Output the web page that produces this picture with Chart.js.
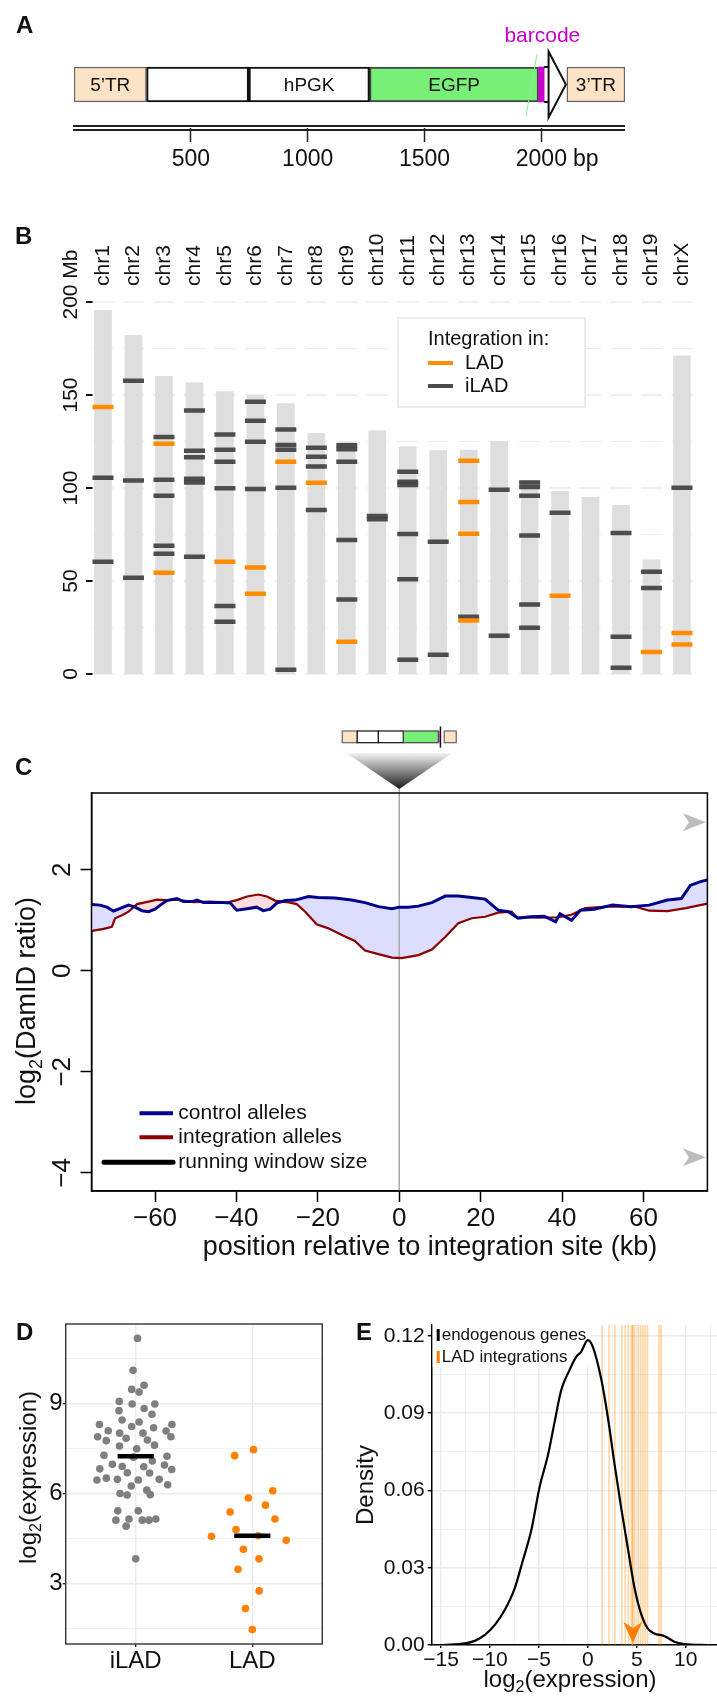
<!DOCTYPE html>
<html>
<head>
<meta charset="utf-8">
<title>Integration figure</title>
<script src="https://cdn.jsdelivr.net/npm/chart.js@4.4.1/dist/chart.umd.min.js"></script>
<style>
  html, body { margin: 0; padding: 0; background: #fff; }
  #page { position: relative; width: 717px; height: 1699px; overflow: hidden; background: #fff; }
  #page canvas { position: absolute; }
  .tag { position: absolute; font: bold 24px "Liberation Sans", Arial, sans-serif; color: #111; line-height: 1; }
</style>
</head>
<body>
<div id="page">
  <canvas id="panelA" width="717" height="185" style="left:0;top:0"></canvas>
  <canvas id="panelB" width="717" height="520" style="left:0;top:185px"></canvas>
  <canvas id="panelC" width="717" height="600" style="left:0;top:705px"></canvas>
  <canvas id="panelD" width="345" height="394" style="left:0;top:1305px"></canvas>
  <canvas id="panelE" width="372" height="394" style="left:345px;top:1305px"></canvas>
  <div class="tag" style="left:16px;top:13px">A</div>
  <div class="tag" style="left:15px;top:224px">B</div>
  <div class="tag" style="left:15px;top:755px">C</div>
  <div class="tag" style="left:16px;top:1320px">D</div>
  <div class="tag" style="left:356px;top:1320px">E</div>
</div>
<script>
const FONT = '"Liberation Sans", Arial, Helvetica, sans-serif';
Chart.defaults.font.family = FONT;
Chart.defaults.color = '#111';
Chart.defaults.animation = false;
Chart.defaults.responsive = false;
Chart.defaults.events = [];
Chart.defaults.plugins.legend.display = false;
Chart.defaults.plugins.tooltip.enabled = false;

// --- A: vector map, positions in bp
const partNames = ['5’TR', '', 'hPGK', 'EGFP', 'barcode', '3’TR'];
const partStartBp = [0, 310, 748, 1265, 1988, 2109];
const partEndBp = [310, 748, 1265, 1988, 2012, 2358];
const arrowBp = [2012, 2031, 2105];
const bpTicks = [500, 1000, 1500, 2000];

// --- B: integration sites per chromosome (Mb)
const chromosomes = ['chr1', 'chr2', 'chr3', 'chr4', 'chr5', 'chr6', 'chr7', 'chr8', 'chr9', 'chr10',
  'chr11', 'chr12', 'chr13', 'chr14', 'chr15', 'chr16', 'chr17', 'chr18', 'chr19', 'chrX'];
const chromLengthMb = [195.5, 182.1, 160.0, 156.5, 151.8, 149.7, 145.4, 129.4, 124.6, 130.7,
  122.1, 120.1, 120.4, 124.9, 104.0, 98.2, 95.0, 90.7, 61.4, 171.0];
const ladChrom = ['chr1', 'chr3', 'chr3', 'chr5', 'chr6', 'chr6', 'chr7', 'chr8', 'chr9', 'chr13',
  'chr13', 'chr13', 'chr13', 'chr16', 'chr19', 'chrX', 'chrX'];
const ladMb = [143.5, 123.8, 54.5, 60.4, 57.2, 43.2, 114.1, 102.8, 17.4, 114.7,
  92.5, 75.4, 28.8, 42.1, 11.8, 22.0, 15.8];
const iladChrom = ['chr1', 'chr1', 'chr2', 'chr2', 'chr2', 'chr3', 'chr3', 'chr3', 'chr3', 'chr3',
  'chr4', 'chr4', 'chr4', 'chr4', 'chr4', 'chr4', 'chr5', 'chr5', 'chr5', 'chr5', 'chr5', 'chr5',
  'chr6', 'chr6', 'chr6', 'chr6', 'chr7', 'chr7', 'chr7', 'chr7', 'chr7', 'chr8', 'chr8', 'chr8', 'chr8',
  'chr9', 'chr9', 'chr9', 'chr9', 'chr9', 'chr10', 'chr10', 'chr11', 'chr11', 'chr11', 'chr11', 'chr11', 'chr11',
  'chr12', 'chr12', 'chr13', 'chr14', 'chr14', 'chr15', 'chr15', 'chr15', 'chr15', 'chr15', 'chr15',
  'chr16', 'chr18', 'chr18', 'chr18', 'chr19', 'chr19', 'chrX'];
const iladMb = [105.5, 60.4, 157.7, 104.0, 51.8, 127.4, 104.5, 95.9, 69.0, 64.7,
  141.6, 120.0, 116.5, 105.0, 103.0, 63.0, 128.7, 120.6, 114.1, 99.8, 36.6, 28.1,
  146.4, 136.2, 124.9, 99.5, 131.5, 123.1, 120.6, 100.2, 2.3, 121.7, 116.8, 111.5, 88.2,
  123.0, 120.8, 114.1, 72.0, 40.0, 85.0, 83.2, 108.8, 103.4, 101.6, 75.3, 50.9, 7.7,
  71.1, 10.4, 30.8, 99.0, 20.6, 103.0, 100.5, 95.9, 74.4, 37.3, 24.9,
  86.7, 75.8, 20.0, 3.4, 55.0, 46.2, 100.2];
const mbTicks = [0, 50, 100, 150, 200];

// --- C: running-window DamID around the integration site
const controlKb = [-75.5, -73.5, -71.8, -70.2, -69.0, -67.8, -66.5, -64.9, -63.2, -61.6, -60.0, -58.7,
  -57.1, -54.6, -53.0, -50.9, -49.7, -48.1, -45.6, -43.2, -41.5, -39.9, -37.4, -35.0, -33.4, -31.7,
  -30.1, -28.0, -25.6, -22.3, -19.9, -15.8, -11.7, -8.4, -5.1, -1.8, 0.0, 2.2, 4.7, 8.0, 11.3, 14.5,
  17.8, 21.1, 22.7, 24.3, 26.8, 29.2, 32.2, 35.6, 38.4, 39.5, 42.3, 44.5, 47.9, 52.4, 56.9, 61.4,
  65.9, 69.3, 71.5, 73.8, 75.7];
const controlLog2 = [1.31, 1.30, 1.26, 1.18, 1.22, 1.26, 1.30, 1.26, 1.19, 1.17, 1.22, 1.30,
  1.39, 1.43, 1.37, 1.37, 1.40, 1.35, 1.35, 1.35, 1.34, 1.20, 1.23, 1.26, 1.19, 1.22,
  1.34, 1.39, 1.40, 1.47, 1.45, 1.44, 1.40, 1.35, 1.27, 1.23, 1.26, 1.26, 1.28, 1.35, 1.48, 1.48,
  1.45, 1.42, 1.31, 1.20, 1.17, 1.04, 1.07, 1.08, 0.97, 1.13, 1.00, 1.20, 1.22, 1.30, 1.27, 1.30,
  1.40, 1.43, 1.69, 1.76, 1.80];
const integKb = [-75.5, -72.6, -70.6, -69.8, -68.1, -66.5, -64.4, -61.6, -59.5, -57.1, -54.6, -50.5,
  -46.4, -42.4, -39.9, -37.4, -34.6, -32.5, -30.5, -26.8, -25.2, -23.1, -20.3, -17.4, -14.1, -10.9,
  -8.4, -5.1, -1.8, 0.6, 4.7, 8.0, 11.3, 14.5, 17.8, 21.1, 24.3, 27.6, 28.8, 34.5, 39.0, 42.3,
  45.7, 51.3, 58.0, 61.4, 65.9, 70.4, 75.7];
const integLog2 = [0.79, 0.83, 0.87, 1.04, 1.10, 1.17, 1.32, 1.37, 1.41, 1.40, 1.41, 1.36,
  1.37, 1.35, 1.40, 1.47, 1.51, 1.47, 1.39, 1.35, 1.32, 1.17, 0.92, 0.84, 0.71, 0.59,
  0.40, 0.33, 0.26, 0.25, 0.31, 0.42, 0.67, 0.94, 1.04, 1.07, 1.15, 1.17, 1.06, 1.05, 1.06, 1.11,
  1.24, 1.27, 1.27, 1.19, 1.18, 1.24, 1.33];
const offscaleLog2 = [2.94, -3.69];
const kbTicks = [-60, -40, -20, 0, 20, 40, 60];
const log2Ticks = [-4, -2, 0, 2];

// --- D / E: expression
const groupNames = ['iLAD', 'LAD'];
const iladExpr = [11.18, 10.12, 9.62, 9.48, 9.39, 9.08, 8.99, 8.99, 8.84, 8.77, 8.65, 8.46, 8.39,
  8.31, 8.31, 8.24, 8.20, 8.10, 8.09, 8.02, 8.02, 7.90, 7.90, 7.85, 7.79, 7.77, 7.62, 7.59, 7.50,
  7.28, 7.25, 7.22, 7.09, 6.98, 6.96, 6.91, 6.90, 6.83, 6.81, 6.70, 6.69, 6.52, 6.48, 6.48, 6.46,
  6.46, 6.30, 6.26, 6.12, 6.01, 5.97, 5.96, 5.43, 5.43, 5.16, 5.16, 5.12, 5.12, 5.12, 4.92, 3.83];
const ladExpr = [7.47, 7.27, 6.10, 5.86, 5.62, 5.39, 5.16, 4.81, 4.60, 4.58, 4.45, 4.15, 3.83,
  3.48, 2.76, 2.17, 1.47];
const densityX = [-14.77, -12.56, -11.54, -10.52, -9.50, -8.49, -7.47, -6.62, -5.77, -4.92, -4.07,
  -3.39, -2.72, -1.87, -1.19, -0.68, 0.00, 0.51, 1.36, 2.04, 2.72, 3.39, 4.07, 4.75, 5.43, 6.11,
  6.79, 7.81, 8.83, 9.84, 12.22];
const densityY = [0.0000, 0.0006, 0.0016, 0.0039, 0.0078, 0.0136, 0.0220, 0.0330, 0.0446, 0.0614,
  0.0737, 0.0866, 0.0989, 0.1067, 0.1118, 0.1138, 0.1183, 0.1157, 0.1034, 0.0886, 0.0705, 0.0537,
  0.0381, 0.0226, 0.0123, 0.0065, 0.0045, 0.0035, 0.0013, 0.0004, 0.0000];

// colours of the vector parts
const partFill = ['#FDE3C6', '#FFFFFF', '#FFFFFF', '#78F078', '#CC00CC', '#FDE3C6'];
const partEdge = ['#666666', '#111111', '#111111', '#444444', '#CC00CC', '#666666'];
const partEdgeW = [1.5, 2.2, 2.2, 2, 0, 1.5];

const minus = v => (v < 0 ? '−' + Math.abs(v) : String(v));
const median = arr => { const s = [...arr].sort((a, b) => a - b); const m = s.length >> 1; return s.length % 2 ? s[m] : (s[m - 1] + s[m]) / 2; };
const isMult = (v, step) => Math.abs(v / step - Math.round(v / step)) < 1e-6;
const fixH = h => s => { s.height = h; };
const fixW = w => s => { s.width = w; };

function rotText(ctx, text, x, y, size, align) {
  ctx.save();
  ctx.translate(x, y);
  ctx.rotate(-Math.PI / 2);
  ctx.font = size + 'px ' + FONT;
  ctx.textAlign = align || 'center';
  ctx.textBaseline = 'middle';
  ctx.fillText(text, 0, 0);
  ctx.restore();
}

// "log2(...)" with a subscript 2, centred at (x, y)
function log2Label(ctx, rest, x, y, size, rotated) {
  ctx.save();
  ctx.translate(x, y);
  if (rotated) ctx.rotate(-Math.PI / 2);
  ctx.textBaseline = 'middle';
  ctx.textAlign = 'left';
  const big = size + 'px ' + FONT, small = Math.round(size * 0.68) + 'px ' + FONT;
  ctx.font = big; const w1 = ctx.measureText('log').width, w3 = ctx.measureText(rest).width;
  ctx.font = small; const w2 = ctx.measureText('2').width;
  let sx = -(w1 + w2 + w3) / 2;
  ctx.font = big; ctx.fillText('log', sx, 0); sx += w1;
  ctx.font = small; ctx.fillText('2', sx, size * 0.32); sx += w2;
  ctx.font = big; ctx.fillText(rest, sx, 0);
  ctx.restore();
}

// ================= A =================
const constructPlugin = {
  id: 'construct',
  afterDatasetsDraw(chart) {
    const { ctx, chartArea: ca, scales: { x } } = chart;
    const cy = chart.getDatasetMeta(0).data[0].y;
    const half = 17.5;
    ctx.save();
    ctx.strokeStyle = '#222'; ctx.lineWidth = 2;
    [-2, 2].forEach(d => {
      ctx.beginPath(); ctx.moveTo(ca.left - 1, ca.bottom + d); ctx.lineTo(ca.right, ca.bottom + d); ctx.stroke();
    });
    const a0 = x.getPixelForValue(arrowBp[0]), a1 = x.getPixelForValue(arrowBp[1]), a2 = x.getPixelForValue(arrowBp[2]);
    ctx.strokeStyle = '#111'; ctx.lineWidth = 2; ctx.fillStyle = '#fff';
    ctx.beginPath(); ctx.moveTo(a1, cy - 33); ctx.lineTo(a2, cy); ctx.lineTo(a1, cy + 33); ctx.closePath();
    ctx.fill(); ctx.stroke();
    ctx.beginPath();
    ctx.moveTo(a0, cy - half); ctx.lineTo(a1, cy - half);
    ctx.moveTo(a0, cy + half); ctx.lineTo(a1, cy + half);
    ctx.stroke();
    ctx.strokeStyle = '#8FEA8F'; ctx.lineWidth = 1;
    ctx.beginPath(); ctx.moveTo(x.getPixelForValue(1981), cy - 30); ctx.lineTo(x.getPixelForValue(1934), cy + 32); ctx.stroke();
    ctx.textAlign = 'center'; ctx.textBaseline = 'middle';
    partNames.forEach((name, i) => {
      if (!name) return;
      const cx = x.getPixelForValue((partStartBp[i] + partEndBp[i]) / 2);
      if (name === 'barcode') {
        ctx.font = '21px ' + FONT; ctx.fillStyle = '#C400CC';
        ctx.fillText(name, cx + 1, cy - 48);
      } else {
        ctx.font = '19px ' + FONT; ctx.fillStyle = '#111';
        ctx.fillText(name, cx, cy + 1);
      }
    });
    ctx.font = '23px ' + FONT; ctx.fillStyle = '#111'; ctx.textAlign = 'left';
    const last = bpTicks[bpTicks.length - 1];
    const lx = x.getPixelForValue(last) + ctx.measureText(String(last)).width / 2 + 6;
    ctx.fillText('bp', lx, ca.bottom + 14 + 4 + 23 * 0.6);
    ctx.restore();
  }
};

new Chart(document.getElementById('panelA'), {
  type: 'bar',
  data: {
    labels: ['vector'],
    datasets: partNames.map((name, i) => ({
      label: name || 'stuffer',
      data: [[partStartBp[i], partEndBp[i]]],
      backgroundColor: partFill[i],
      borderColor: partEdge[i],
      borderWidth: partEdgeW[i],
      borderSkipped: false,
      grouped: false,
      barThickness: 35,
      order: name === 'barcode' ? 0 : 1
    }))
  },
  options: {
    indexAxis: 'y',
    layout: { padding: { left: 74, right: 92, top: 41, bottom: 0 } },
    scales: {
      x: {
        type: 'linear', min: 0, max: 2358,
        afterFit: fixH(57),
        afterBuildTicks: s => { s.ticks = bpTicks.map(v => ({ value: v })); },
        border: { display: false },
        grid: { drawOnChartArea: false, tickLength: 14, tickColor: '#222', tickWidth: 1.5 },
        ticks: { font: { size: 23 }, color: '#111', padding: 4, callback: v => String(v) }
      },
      y: { display: false }
    }
  },
  plugins: [constructPlugin]
});

// ================= B =================
const chromPlugin = {
  id: 'chrom',
  beforeDatasetsDraw(chart) {
    const { ctx, scales: { x, y } } = chart;
    ctx.save();
    ctx.strokeStyle = '#EBEBEB';
    for (let v = 0; v <= 200; v += 25) {
      const py = y.getPixelForValue(v);
      ctx.lineWidth = v % 50 === 0 ? 1.6 : 1.1;
      chromosomes.forEach((c, i) => {
        const cx = x.getPixelForValue(i);
        ctx.beginPath(); ctx.moveTo(cx - 10.5, py); ctx.lineTo(cx + 10.5, py); ctx.stroke();
      });
    }
    ctx.restore();
  },
  afterDatasetsDraw(chart) {
    const { ctx, scales: { x, y } } = chart;
    ctx.save();
    const x0 = x.getPixelForValue(0) - 10.5;
    ctx.strokeStyle = '#111'; ctx.lineWidth = 2; ctx.fillStyle = '#111';
    mbTicks.forEach(v => {
      const py = y.getPixelForValue(v);
      ctx.beginPath(); ctx.moveTo(x0 - 6.5, py); ctx.lineTo(x0, py); ctx.stroke();
      if (v === 200) {
        ctx.font = '21px ' + FONT;
        const w = ctx.measureText(String(v)).width;
        ctx.save(); ctx.translate(x0 - 21.5, py); ctx.rotate(-Math.PI / 2);
        ctx.textAlign = 'left'; ctx.textBaseline = 'middle';
        ctx.fillText(v + ' Mb', -w / 2, 0);
        ctx.restore();
      } else {
        rotText(ctx, String(v), x0 - 21.5, py, 21);
      }
    });
    const topY = y.getPixelForValue(200) - 16;
    chromosomes.forEach((c, i) => rotText(ctx, c, x.getPixelForValue(i), topY, 21, 'left'));
    const lx = 398, ly = 133;
    ctx.fillStyle = '#fff'; ctx.fillRect(lx, ly, 187, 89);
    ctx.strokeStyle = '#E6E6E6'; ctx.lineWidth = 1.5; ctx.strokeRect(lx, ly, 187, 89);
    ctx.fillStyle = '#111'; ctx.font = '20px ' + FONT; ctx.textAlign = 'left'; ctx.textBaseline = 'middle';
    ctx.fillText('Integration in:', lx + 30, ly + 21);
    [['LAD', '#FF8C00', 45], ['iLAD', '#4D4D4D', 68]].forEach(([t, col, dy]) => {
      ctx.strokeStyle = col; ctx.lineWidth = 4;
      ctx.beginPath(); ctx.moveTo(lx + 30, ly + dy); ctx.lineTo(lx + 55, ly + dy); ctx.stroke();
      ctx.fillText(t, lx + 67, ly + dy);
    });
    ctx.restore();
  }
};

new Chart(document.getElementById('panelB'), {
  type: 'bar',
  data: {
    labels: chromosomes,
    datasets: [
      {
        label: 'LAD', type: 'line', showLine: false, order: 1,
        data: ladChrom.map((c, i) => ({ x: c, y: ladMb[i] })),
        pointStyle: 'line', pointRadius: 10.5, pointBorderWidth: 4.5, pointBorderColor: '#FF8C00'
      },
      {
        label: 'iLAD', type: 'line', showLine: false, order: 2,
        data: iladChrom.map((c, i) => ({ x: c, y: iladMb[i] })),
        pointStyle: 'line', pointRadius: 10.5, pointBorderWidth: 4.5, pointBorderColor: 'rgba(64,64,64,0.92)'
      },
      {
        label: 'chromosome', order: 3,
        data: chromLengthMb.map(l => [0, l]),
        backgroundColor: '#DEDEDE', barThickness: 17, grouped: false, borderWidth: 0
      }
    ]
  },
  options: {
    layout: { padding: { left: 87.8, right: 19.8, top: 117, bottom: 31 } },
    scales: {
      x: { type: 'category', display: false, offset: true },
      y: { type: 'linear', display: false, min: 0, max: 200 }
    }
  },
  plugins: [chromPlugin]
});

// ================= C =================
const damidPlugin = {
  id: 'damid',
  beforeDatasetsDraw(chart) {
    const { ctx, chartArea: ca, scales: { x } } = chart;
    const x0 = x.getPixelForValue(0);
    ctx.save();
    ctx.strokeStyle = '#A8A8A8'; ctx.lineWidth = 1.5;
    ctx.beginPath(); ctx.moveTo(x0, ca.top - 4); ctx.lineTo(x0, ca.bottom); ctx.stroke();
    ctx.restore();
  },
  afterDatasetsDraw(chart) {
    const { ctx, chartArea: ca, scales: { x, y } } = chart;
    ctx.save();
    ctx.strokeStyle = '#000'; ctx.lineWidth = 1.5;
    ctx.strokeRect(ca.left, ca.top, ca.right - ca.left, ca.bottom - ca.top);
    ctx.fillStyle = '#BDBDBD';
    offscaleLog2.forEach(v => {
      const tip = ca.right - 1.5, cy = y.getPixelForValue(v);
      ctx.beginPath(); ctx.moveTo(tip, cy); ctx.lineTo(tip - 23, cy - 9); ctx.lineTo(tip - 17, cy);
      ctx.lineTo(tip - 23, cy + 9); ctx.closePath(); ctx.fill();
    });
    ctx.fillStyle = '#111';
    log2Ticks.forEach(v => rotText(ctx, minus(v), ca.left - 29, y.getPixelForValue(v), 26));
    const x0 = x.getPixelForValue(0), w = 114, left = x0 - w / 2, top = ca.top - 62, h = 11.7;
    const sx = bp => left + bp / 2358 * w;
    partNames.forEach((n, i) => {
      ctx.fillStyle = partFill[i];
      ctx.fillRect(sx(partStartBp[i]), top, sx(partEndBp[i]) - sx(partStartBp[i]), h);
      if (partEdgeW[i] > 0) {
        ctx.strokeStyle = partEdge[i]; ctx.lineWidth = 1.2;
        ctx.strokeRect(sx(partStartBp[i]), top, sx(partEndBp[i]) - sx(partStartBp[i]), h);
      }
    });
    ctx.strokeStyle = '#111'; ctx.lineWidth = 1.5;
    ctx.beginPath(); ctx.moveTo(sx(arrowBp[1]), top - 4.5); ctx.lineTo(sx(arrowBp[1]), top + h + 5); ctx.stroke();
    const g = ctx.createLinearGradient(0, ca.top - 40, 0, ca.top - 4);
    g.addColorStop(0, '#F4F4F4'); g.addColorStop(1, '#1A1A1A');
    ctx.fillStyle = g;
    ctx.beginPath(); ctx.moveTo(x0 - 53, ca.top - 40); ctx.lineTo(x0 + 53, ca.top - 40); ctx.lineTo(x0, ca.top - 4); ctx.closePath(); ctx.fill();
    ctx.font = '21px ' + FONT; ctx.textAlign = 'left'; ctx.textBaseline = 'middle'; ctx.fillStyle = '#111';
    [['control alleles', '#00008B', -77.7, 139.5, 4], ['integration alleles', '#8B0000', -53.7, 139.5, 4],
     ['running window size', '#000', -28.7, 104, 5]].forEach(([t, col, dy, x1, lw]) => {
      ctx.strokeStyle = col; ctx.lineWidth = lw; ctx.lineCap = col === '#000' ? 'round' : 'butt';
      ctx.beginPath(); ctx.moveTo(x1, ca.bottom + dy); ctx.lineTo(173, ca.bottom + dy); ctx.stroke();
      ctx.fillText(t, 178.3, ca.bottom + dy);
    });
    ctx.font = '27px ' + FONT; ctx.textAlign = 'center';
    ctx.fillText('position relative to integration site (kb)', 430, ca.bottom + 57);
    log2Label(ctx, '(DamID ratio)', 28, (ca.top + ca.bottom) / 2 + 9, 27, true);
    ctx.restore();
  }
};

new Chart(document.getElementById('panelC'), {
  type: 'line',
  data: {
    datasets: [
      {
        label: 'control alleles', order: 1,
        data: controlKb.map((v, i) => ({ x: v, y: controlLog2[i] })),
        borderColor: '#00008B', borderWidth: 3, pointRadius: 0, tension: 0,
        fill: { target: 1, above: 'rgb(221,221,255)', below: 'rgb(255,221,221)' }
      },
      {
        label: 'integration alleles', order: 2,
        data: integKb.map((v, i) => ({ x: v, y: integLog2[i] })),
        borderColor: '#8B0000', borderWidth: 2.2, pointRadius: 0, tension: 0, fill: false
      }
    ]
  },
  options: {
    layout: { padding: { left: 91.5, right: 9.6, top: 88, bottom: 0 } },
    plugins: { filler: { drawTime: 'beforeDatasetsDraw' } },
    scales: {
      x: {
        type: 'linear', min: -75.6, max: 75.7,
        afterFit: fixH(114),
        afterBuildTicks: s => { s.ticks = kbTicks.map(v => ({ value: v })); },
        grid: { drawOnChartArea: false, tickLength: 11, tickColor: '#000', tickWidth: 1.5 },
        border: { color: '#000', width: 1.5 },
        ticks: { font: { size: 26 }, color: '#111', padding: 1, callback: v => minus(v) }
      },
      y: {
        type: 'linear', min: -4.36, max: 3.52,
        afterFit: fixW(0),
        afterBuildTicks: s => { s.ticks = log2Ticks.map(v => ({ value: v })); },
        grid: { drawOnChartArea: false, tickLength: 11, tickColor: '#000', tickWidth: 1.5 },
        border: { color: '#000', width: 1.5 },
        ticks: { display: false }
      }
    }
  },
  plugins: [damidPlugin]
});

// ================= D =================
const dYMin = 0.99, dYMax = 11.66, dXMin = 0.4, dXMax = 2.6;
const dAxisW = 65.7, dAxisH = 55, dPadR = 22.7, dPadT = 19;

// quasirandom offsets (van der Corput sequence scaled by a gaussian density, as ggbeeswarm does)
function quasirandom(values, width) {
  const n = values.length;
  const mean = values.reduce((a, b) => a + b, 0) / n;
  const sd = Math.sqrt(values.reduce((a, b) => a + (b - mean) ** 2, 0) / (n - 1));
  const s = [...values].sort((a, b) => a - b);
  const q = p => { const h = (n - 1) * p, lo = Math.floor(h); return s[lo] + (h - lo) * (s[Math.min(lo + 1, n - 1)] - s[lo]); };
  let spread = Math.min(sd, (q(0.75) - q(0.25)) / 1.34);
  if (!(spread > 0)) spread = sd || 1;
  const bw = 0.9 * spread * Math.pow(n, -0.2) * 0.5;
  const kde = x => values.reduce((a, v) => a + Math.exp(-0.5 * ((x - v) / bw) ** 2), 0);
  let maxD = 0;
  const g0 = s[0] - 3 * bw, g1 = s[n - 1] + 3 * bw;
  for (let k = 0; k < 512; k++) maxD = Math.max(maxD, kde(g0 + (g1 - g0) * k / 511));
  const vdc = i => { let r = 0, f = 0.5; while (i > 0) { r += f * (i & 1); i >>= 1; f /= 2; } return r; };
  const order = values.map((v, i) => i).sort((a, b) => values[a] - values[b] || a - b);
  const out = new Array(n);
  order.forEach((idx, rank) => { out[idx] = (vdc(rank + 1) - 0.5) * 2 * width * kde(values[idx]) / maxD; });
  return out;
}
const iladJitter = quasirandom(iladExpr, 0.4);
const ladJitter = quasirandom(ladExpr, 0.4);
const medHalf = 0.155;

const exprPlugin = {
  id: 'expr',
  afterDatasetsDraw(chart) {
    const { ctx, chartArea: ca } = chart;
    ctx.save();
    ctx.strokeStyle = '#333'; ctx.lineWidth = 1.4;
    ctx.strokeRect(ca.left, ca.top, ca.right - ca.left, ca.bottom - ca.top);
    ctx.fillStyle = '#111';
    log2Label(ctx, '(expression)', 29, 172.5, 24, true);
    ctx.restore();
  }
};

new Chart(document.getElementById('panelD'), {
  type: 'scatter',
  data: {
    datasets: [
      { label: 'iLAD median', type: 'line', order: 0, borderColor: '#000', borderWidth: 4.5, pointRadius: 0,
        data: [{ x: 1 - medHalf, y: median(iladExpr) }, { x: 1 + medHalf, y: median(iladExpr) }] },
      { label: 'LAD median', type: 'line', order: 0, borderColor: '#000', borderWidth: 4.5, pointRadius: 0,
        data: [{ x: 2 - medHalf, y: median(ladExpr) }, { x: 2 + medHalf, y: median(ladExpr) }] },
      { label: 'iLAD', order: 1, data: iladExpr.map((v, i) => ({ x: 1 + iladJitter[i], y: v })),
        backgroundColor: '#7F7F7F', pointRadius: 3.8, borderWidth: 0 },
      { label: 'LAD', order: 1, data: ladExpr.map((v, i) => ({ x: 2 + ladJitter[i], y: v })),
        backgroundColor: '#FF7F00', pointRadius: 3.8, borderWidth: 0 }
    ]
  },
  options: {
    layout: { padding: { left: 0, right: dPadR, top: dPadT, bottom: 0 } },
    scales: {
      x: {
        type: 'linear', min: dXMin, max: dXMax,
        afterFit: fixH(dAxisH),
        afterBuildTicks: s => { s.ticks = groupNames.map((g, i) => ({ value: i + 1 })); },
        grid: { color: '#EBEBEB', lineWidth: 1.4, tickLength: 3, tickColor: '#333' },
        border: { display: false },
        ticks: { font: { size: 24 }, color: '#111', padding: 0, callback: v => groupNames[v - 1] }
      },
      y: {
        type: 'linear', min: dYMin, max: dYMax,
        afterFit: fixW(dAxisW),
        grid: {
          color: '#EBEBEB', tickLength: 3,
          lineWidth: c => (isMult(c.tick.value, 3) ? 1.4 : 0.7),
          tickColor: c => (isMult(c.tick.value, 3) ? '#333' : 'rgba(0,0,0,0)')
        },
        border: { display: false },
        ticks: { stepSize: 1.5, includeBounds: false, font: { size: 24 }, color: '#111', padding: 0,
          callback: v => (isMult(v, 3) ? String(Math.round(v)) : '') }
      }
    }
  },
  plugins: [exprPlugin]
});

// ================= E =================
const densityPlugin = {
  id: 'density',
  beforeDatasetsDraw(chart) {
    const { ctx, chartArea: ca, scales: { x } } = chart;
    ctx.save();
    ctx.fillStyle = '#fff';
    ctx.fillRect(ca.left + 1, ca.top - 1, 158, 43);
    ctx.strokeStyle = 'rgba(255,140,0,0.36)'; ctx.lineWidth = 1.6;
    ladExpr.forEach(v => {
      const px = x.getPixelForValue(v);
      ctx.beginPath(); ctx.moveTo(px, ca.top); ctx.lineTo(px, ca.bottom); ctx.stroke();
    });
    ctx.font = '17px ' + FONT; ctx.textAlign = 'left'; ctx.textBaseline = 'middle';
    [['endogenous genes', '#000', 10], ['LAD integrations', '#FF7F00', 32]].forEach(([t, col, dy]) => {
      ctx.fillStyle = col; ctx.fillRect(ca.left + 5, ca.top + dy - 6, 3, 12);
      ctx.fillStyle = '#111'; ctx.fillText(t, ca.left + 10, ca.top + dy);
    });
    ctx.restore();
  },
  afterDatasetsDraw(chart) {
    const { ctx, chartArea: ca, scales: { x } } = chart;
    ctx.save();
    const mx = x.getPixelForValue(median(ladExpr)), b = ca.bottom - 2;
    ctx.fillStyle = '#FF7F00';
    ctx.beginPath(); ctx.moveTo(mx, b); ctx.lineTo(mx - 9.5, b - 21); ctx.lineTo(mx, b - 15); ctx.lineTo(mx + 9.5, b - 21);
    ctx.closePath(); ctx.fill();
    ctx.fillStyle = '#111';
    rotText(ctx, 'Density', 21.7, 180, 24);
    log2Label(ctx, '(expression)', 225, 375, 24, false);
    ctx.restore();
  }
};

new Chart(document.getElementById('panelE'), {
  type: 'line',
  data: {
    datasets: [{
      label: 'endogenous genes',
      data: densityX.map((v, i) => ({ x: v, y: densityY[i] })),
      borderColor: '#000', borderWidth: 2.2, pointRadius: 0, cubicInterpolationMode: 'monotone', fill: false
    }]
  },
  options: {
    layout: { padding: { left: 0, right: 0, top: 20, bottom: 0 } },
    scales: {
      x: {
        type: 'linear', min: -15.95, max: 13.2,
        afterFit: fixH(54),
        grid: {
          color: '#EBEBEB', tickLength: 3,
          lineWidth: c => (isMult(c.tick.value, 5) ? 1.4 : 0.7),
          tickColor: c => (isMult(c.tick.value, 5) ? '#000' : 'rgba(0,0,0,0)')
        },
        border: { color: '#000', width: 1.5 },
        ticks: { stepSize: 2.5, includeBounds: false, autoSkip: false, maxRotation: 0, font: { size: 21 }, color: '#111', padding: 0,
          callback: v => (isMult(v, 5) ? minus(Math.round(v)) : '') }
      },
      y: {
        type: 'linear', min: 0, max: 0.1242,
        afterFit: fixW(86.7),
        grid: {
          color: '#EBEBEB', tickLength: 4,
          lineWidth: c => (isMult(c.tick.value, 0.03) ? 1.4 : 0.7),
          tickColor: c => (isMult(c.tick.value, 0.03) ? '#000' : 'rgba(0,0,0,0)')
        },
        border: { color: '#000', width: 1.5 },
        ticks: { stepSize: 0.015, includeBounds: false, autoSkip: false, font: { size: 21 }, color: '#111', padding: 3,
          callback: v => (isMult(v, 0.03) ? v.toFixed(2) : '') }
      }
    }
  },
  plugins: [densityPlugin]
});
</script>
</body>
</html>
